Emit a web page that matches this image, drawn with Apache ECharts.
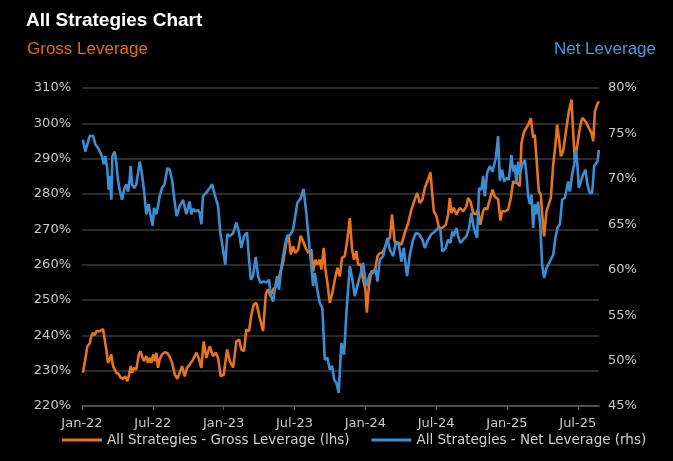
<!DOCTYPE html>
<html>
<head>
<meta charset="utf-8">
<script src="https://cdn.jsdelivr.net/npm/echarts@6/dist/echarts.min.js"></script>
<style>
html,body{margin:0;padding:0;background:#000;}
#chart{width:673px;height:461px;}
</style>
</head>
<body>
<div id="chart"></div>
<script>
// x values: months elapsed since 1 Jan 2022
var xTickLabels = ['Jan-22','Jul-22','Jan-23','Jul-23','Jan-24','Jul-24','Jan-25','Jul-25'];
var xTickMonths = [0, 6, 12, 18, 24, 30, 36, 42];

var grossMonths = [0.08,0.28,0.45,0.65,0.79,0.93,1.08,1.21,1.36,1.5,1.64,1.78,1.92,2.06,2.2,2.35,2.48,2.63,2.77,2.91,3.11,3.28,3.47,3.67,3.84,3.96,4.13,4.24,4.41,4.6,4.81,4.97,5.08,5.25,5.45,5.59,5.74,5.87,6.04,6.16,6.3,6.44,6.58,6.78,7.01,7.23,7.43,7.63,7.86,8.08,8.28,8.47,8.7,8.9,9.13,9.41,9.69,9.92,10.11,10.31,10.53,10.82,11.1,11.33,11.53,11.75,12.01,12.29,12.52,12.8,13.08,13.31,13.5,13.73,13.92,14.15,14.35,14.55,14.77,15.06,15.34,15.57,15.76,15.96,16.19,16.47,16.75,17.03,17.31,17.5,17.69,17.88,18.08,18.31,18.53,18.73,19.01,19.21,19.43,19.58,19.77,19.94,20.14,20.28,20.48,20.62,20.79,20.99,21.21,21.42,21.64,21.84,22.03,22.26,22.48,22.69,22.88,23.05,23.25,23.39,23.62,23.81,24.01,24.13,24.3,24.52,24.75,24.86,25.03,25.23,25.42,25.65,25.87,26.08,26.27,26.48,26.78,27.06,27.35,27.63,27.91,28.19,28.39,28.62,28.84,29.04,29.32,29.52,29.69,29.81,30.03,30.25,30.53,30.82,31.02,31.16,31.3,31.5,31.72,32.01,32.29,32.57,32.71,32.91,33.14,33.36,33.56,33.75,33.98,34.13,34.32,34.55,34.77,34.97,35.25,35.45,35.59,35.82,36.1,36.33,36.53,36.72,36.89,37.09,37.23,37.46,37.8,38.03,38.22,38.36,38.5,38.7,38.87,39.01,39.15,39.35,39.49,39.72,39.92,40.11,40.25,40.4,40.57,40.76,41.04,41.25,41.47,41.61,41.75,41.97,42.18,42.37,42.54,42.74,42.94,43.16,43.31,43.45,43.64,43.79];
var grossValues = [229.4,233.2,236.9,237.7,239.8,240.7,240.0,241.2,240.7,241.2,240.7,241.8,241.7,236.0,232.2,233.2,234.6,231.3,230.8,229.4,229.0,228.0,227.7,228.4,227.0,228.4,231.3,229.4,230.8,230.3,234.6,235.5,234.1,232.7,234.1,232.2,233.6,232.2,234.6,232.7,235.1,230.8,233.2,234.6,235.2,235.0,233.9,232.2,228.9,227.7,229.4,231.3,228.4,230.8,231.7,233.2,235.1,233.2,230.8,238.3,233.6,236.9,234.1,235.1,233.6,228.4,228.9,236.0,232.7,230.9,238.3,238.8,236.0,235.5,241.65,241.2,245.9,248.7,249.2,244.95,241.2,251.55,253.0,251.1,253.0,253.9,257.2,260.5,266.2,268.5,262.9,265.2,263.3,264.3,268.2,266.6,264.3,263.3,264.3,258.1,261.4,260.0,261.4,258.6,264.75,258.6,254.85,249.2,252.0,255.8,259.1,256.7,261.9,262.4,267.1,273.2,264.3,261.4,263.8,260.0,260.0,255.8,253.0,246.4,253.9,258.1,258.1,259.1,262.4,263.3,263.3,264.75,266.6,267.6,274.2,266.5,266.2,265.7,269.0,271.8,275.6,278.4,280.3,277.5,278.4,281.7,284.1,286.1,279.3,275.1,273.7,270.4,270.4,271.3,274.2,278.9,274.65,276.1,274.2,276.1,275.1,276.5,278.9,277.9,274.65,274.2,275.6,271.3,275.1,276.1,275.6,278.4,281.2,279.3,278.5,272.5,275.1,275.1,275.6,278.9,283.6,283.1,283.1,282.2,294.4,297.7,299.6,301.5,295.9,296.8,290.2,280.8,279.8,273.2,268.0,275.1,276.5,278.9,288.3,294.0,299.6,295.9,290.7,292.1,298.7,303.4,306.7,297.7,289.7,294.0,298.7,301.5,301.0,300.1,298.7,297.3,294.9,303.4,305.3,306.2];

var netMonths = [0.08,0.28,0.65,0.93,1.13,1.21,1.36,1.5,1.69,1.86,1.98,2.15,2.26,2.34,2.49,2.57,2.77,2.91,3.05,3.19,3.39,3.56,3.75,3.9,4.04,4.12,4.24,4.41,4.6,4.75,4.89,5.03,5.25,5.45,5.65,5.82,5.99,6.1,6.3,6.44,6.58,6.78,7.0,7.23,7.43,7.63,7.85,8.02,8.28,8.56,8.84,9.12,9.26,9.41,9.63,9.83,9.97,10.11,10.25,10.54,10.82,11.02,11.25,11.53,11.72,11.95,12.14,12.31,12.52,12.8,13.08,13.31,13.5,13.73,13.98,14.15,14.3,14.49,14.72,14.92,15.11,15.34,15.62,15.85,15.99,16.19,16.33,16.53,16.69,16.89,17.18,17.37,17.63,17.88,18.24,18.53,18.77,19.03,19.21,19.43,19.58,19.72,19.94,20.14,20.36,20.57,20.79,20.99,21.19,21.36,21.55,21.75,21.97,22.2,22.4,22.69,22.91,23.11,23.39,23.62,23.81,24.09,24.38,24.66,24.86,25.03,25.23,25.51,25.87,26.08,26.36,26.58,26.84,27.06,27.26,27.43,27.54,27.77,28.05,28.28,28.56,28.84,29.04,29.32,29.6,29.89,30.17,30.36,30.53,30.82,31.02,31.21,31.38,31.5,31.72,31.86,32.06,32.29,32.57,32.8,32.99,33.19,33.47,33.64,33.84,33.98,34.13,34.32,34.55,34.77,35.06,35.25,35.4,35.59,35.76,35.99,36.16,36.38,36.53,36.67,36.81,36.95,37.09,37.29,37.52,37.65,37.8,37.94,38.08,38.22,38.36,38.5,38.64,38.84,38.98,39.15,39.35,39.64,39.92,40.11,40.28,40.48,40.68,40.91,41.19,41.33,41.53,41.69,41.84,41.97,42.09,42.26,42.46,42.65,42.82,43.02,43.22,43.39,43.53,43.67,43.79];
var netValues = [74.3,73.0,74.7,74.75,73.8,74.0,73.4,73.6,72.5,71.6,72.5,71.0,68.8,70.3,67.7,72.5,73.0,71.75,69.9,68.8,67.7,68.8,69.4,68.6,69.9,71.4,69.4,69.0,69.4,70.65,71.9,71.0,68.8,66.1,67.2,65.9,64.85,66.8,66.1,67.0,68.1,69.0,69.4,71.2,71.0,69.9,67.5,65.9,67.0,67.7,66.1,67.5,66.1,66.7,66.4,66.6,66.25,65.0,68.1,68.5,69.0,69.4,68.25,67.0,64.05,62.2,60.55,63.9,63.7,64.0,65.2,64.05,62.4,63.7,64.1,61.1,58.9,59.3,61.4,59.3,58.55,58.7,58.6,58.9,57.1,56.5,57.8,59.3,57.8,60.3,62.6,63.7,63.8,64.4,67.35,67.9,68.9,65.9,63.3,60.4,58.2,59.65,57.8,56.35,55.8,50.1,50.3,49.0,49.4,47.9,47.55,46.45,51.95,50.65,55.25,60.4,58.9,57.1,58.55,59.65,60.75,58.2,59.5,59.65,60.2,58.7,61.1,61.5,63.5,62.2,61.5,62.95,62.75,60.9,62.4,60.4,59.3,61.65,63.3,64.05,63.9,63.3,62.4,63.3,63.9,64.2,64.6,64.4,62.0,62.4,63.3,62.95,64.2,63.7,64.6,63.7,62.95,63.3,63.7,64.6,66.25,64.6,63.5,69.0,68.8,70.3,68.1,70.65,71.4,70.8,72.3,74.7,69.8,71.0,69.7,70.1,69.9,72.65,70.8,71.55,69.55,71.9,70.5,71.55,72.1,70.5,68.1,67.2,68.25,64.6,67.2,66.1,67.5,64.6,60.55,59.1,60.2,60.9,61.65,63.5,64.6,65.0,67.7,67.9,69.7,68.6,70.5,71.55,73.2,71.55,69.0,69.7,70.5,71.0,69.4,68.45,68.45,71.4,71.4,71.9,73.2];

var grossName = 'All Strategies - Gross Leverage (lhs)';
var netName = 'All Strategies - Net Leverage (rhs)';

function zip(xs, ys) { return xs.map(function (x, i) { return [x, ys[i]]; }); }

var chart = echarts.init(document.getElementById('chart'), null, {renderer: 'canvas'});
var labelFont = 'DejaVu Sans';
chart.setOption({
  backgroundColor: '#000000',
  animation: false,
  title: [
    {text: 'All Strategies Chart', left: 21, top: 6,
     textStyle: {color: '#ffffff', fontSize: 19, fontWeight: 'bold', fontFamily: 'Liberation Sans'}},
    {text: 'Gross Leverage', left: 22, top: 36,
     textStyle: {color: '#E46C0A', fontSize: 17, fontWeight: 'normal', fontFamily: 'Liberation Sans'}},
    {text: 'Net Leverage', right: 12, top: 36,
     textStyle: {color: '#3E9BE0', fontSize: 17, fontWeight: 'normal', fontFamily: 'Liberation Sans'}}
  ],
  legend: {
    bottom: 9, left: 57, itemGap: 22,
    icon: 'rect', itemWidth: 40, itemHeight: 3,
    textStyle: {color: '#D0D0D0', fontSize: 13.5, fontFamily: labelFont},
    data: [grossName, netName]
  },
  grid: {left: 82, right: 74, top: 88, bottom: 55, containLabel: false},
  xAxis: {
    type: 'value', min: 0, max: 43.8,
    axisLine: {show: true, lineStyle: {color: '#5a5a5a', width: 1.5}},
    axisTick: {show: true, length: 4, customValues: xTickMonths, lineStyle: {color: '#5a5a5a'}},
    axisLabel: {
      customValues: xTickMonths, color: '#C8C8C8', fontSize: 13, fontFamily: labelFont, margin: 11,
      formatter: function (v) { return xTickLabels[Math.round(v / 6)] || ''; }
    },
    splitLine: {show: false}
  },
  yAxis: [
    {type: 'value', min: 220, max: 310, interval: 10, position: 'left',
     axisLine: {show: false}, axisTick: {show: false},
     axisLabel: {formatter: '{value}%', color: '#C8C8C8', fontSize: 13, fontFamily: labelFont, margin: 11},
     splitLine: {show: true, lineStyle: {color: '#3a3a3a', width: 1.5}}},
    {type: 'value', min: 45, max: 80, interval: 5, position: 'right',
     axisLine: {show: false}, axisTick: {show: false},
     axisLabel: {formatter: '{value}%', color: '#C8C8C8', fontSize: 13, fontFamily: labelFont, margin: 9},
     splitLine: {show: false}}
  ],
  series: [
    {name: grossName, type: 'line', yAxisIndex: 0, showSymbol: false, symbol: 'none',
     data: zip(grossMonths, grossValues), color: '#E8731E',
     lineStyle: {color: '#E8731E', width: 2.6}},
    {name: netName, type: 'line', yAxisIndex: 1, showSymbol: false, symbol: 'none',
     data: zip(netMonths, netValues), color: '#3C8ED3',
     lineStyle: {color: '#3C8ED3', width: 2.6}}
  ]
});
</script>
</body>
</html>
